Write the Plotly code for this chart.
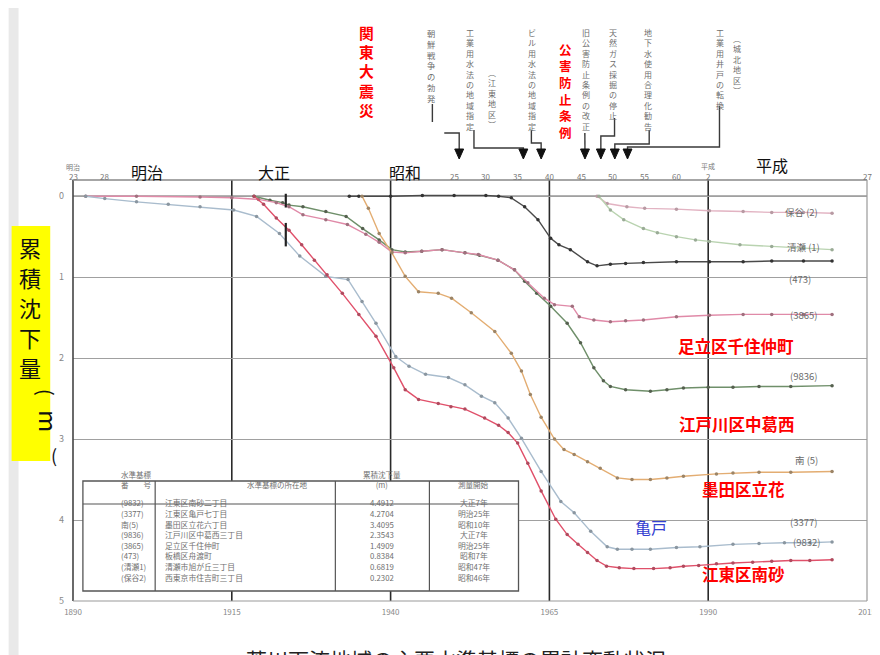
import plotly.graph_objects as go

# ---------------- data ----------------
# 江東区南砂 (9832)
yr_9832 = [1918.5, 1920, 1922, 1924, 1926, 1928, 1930, 1932.4, 1935, 1937.7, 1940.5, 1942.3, 1944.4,
           1947.5, 1949.5, 1951.7, 1954.8, 1957, 1958.5, 1960, 1961.6, 1963.7, 1966, 1967.8, 1969.5,
           1971, 1972.5, 1974, 1976, 1978.3, 1981.4, 1984, 1986.1, 1988.5, 1991.3, 1993.9, 1997,
           2000, 2003, 2006, 2009.5]
dp_9832 = [0.0, 0.1, 0.27, 0.42, 0.6, 0.79, 0.97, 1.2, 1.46, 1.73, 2.12, 2.39, 2.51,
           2.56, 2.6, 2.63, 2.74, 2.83, 2.92, 3.05, 3.3, 3.64, 3.99, 4.18, 4.3,
           4.4, 4.5, 4.57, 4.59, 4.6, 4.6, 4.59, 4.57, 4.56, 4.54, 4.53, 4.52,
           4.51, 4.5, 4.5, 4.49]
# 江東区亀戸 (3377)
yr_3377 = [1892, 1895, 1900, 1905, 1910, 1915.3, 1918.9, 1922.5, 1925.7, 1929.8, 1933.3, 1935.5,
           1937.7, 1940.8, 1942.9, 1945.5, 1949.1, 1951.7, 1954.3, 1956.4, 1958.5, 1960.6, 1963.7,
           1966.8, 1968.9, 1971.5, 1974.1, 1975.7, 1978, 1980.9, 1985, 1988.7, 1993.9, 1998, 2002,
           2006, 2009.5]
dp_3377 = [0.0, 0.03, 0.07, 0.1, 0.13, 0.17, 0.25, 0.46, 0.74, 0.99, 1.03, 1.3,
           1.57, 1.98, 2.1, 2.2, 2.24, 2.33, 2.47, 2.55, 2.74, 2.99, 3.4,
           3.77, 3.91, 4.14, 4.33, 4.36, 4.36, 4.36, 4.34, 4.33, 4.3, 4.29, 4.28,
           4.28, 4.27]
# 墨田区立花 南(5)
yr_m5 = [1935.5, 1936.5, 1938.2, 1940.2, 1942.3, 1944.4, 1947.5, 1949.6, 1952.7, 1956.4, 1959,
         1960.6, 1962, 1963.7, 1965.8, 1967.3, 1968.9, 1971, 1973, 1975.7, 1978, 1980.9, 1983.5,
         1986.1, 1991.3, 1993.9, 1998, 2003, 2009.5]
dp_m5 = [0.0, 0.15, 0.46, 0.7, 0.99, 1.18, 1.2, 1.26, 1.44, 1.67, 1.94,
         2.16, 2.45, 2.73, 3.0, 3.13, 3.19, 3.28, 3.36, 3.48, 3.5, 3.5, 3.48,
         3.46, 3.43, 3.42, 3.41, 3.41, 3.4]
# 江戸川区中葛西 (9836)
yr_9836 = [1918.5, 1921, 1923, 1924, 1926.2, 1929.8, 1933, 1935.6, 1938.2, 1940.2, 1942.3, 1944.9,
           1948.1, 1951.7, 1954, 1956.9, 1959.5, 1961.1, 1963, 1965.2, 1967.8, 1969.9, 1972, 1973.5,
           1974.6, 1977, 1980.9, 1983.5, 1986.1, 1990, 1993.9, 1998, 2003, 2009.5]
dp_9836 = [0.0, 0.05, 0.08, 0.11, 0.13, 0.19, 0.25, 0.4, 0.54, 0.66, 0.69, 0.68,
           0.66, 0.7, 0.73, 0.79, 0.91, 1.05, 1.2, 1.36, 1.57, 1.81, 2.12, 2.28,
           2.35, 2.39, 2.41, 2.39, 2.37, 2.36, 2.36, 2.35, 2.35, 2.34]
# 足立区千住仲町 (3865)
yr_3865 = [1892, 1900, 1910, 1915, 1919.2, 1922, 1924, 1926.2, 1929.8, 1933.2, 1936.1, 1938.2,
           1940.2, 1942.3, 1944.9, 1948.1, 1951.7, 1953.8, 1956.9, 1959.5, 1961.6, 1964.2, 1965.8,
           1968.6, 1969.7, 1972, 1974.6, 1977, 1979.8, 1985, 1990.2, 1995.5, 2000, 2005, 2009.5]
dp_3865 = [0.0, 0.0, 0.01, 0.02, 0.04, 0.08, 0.13, 0.23, 0.29, 0.35, 0.47, 0.57,
           0.69, 0.7, 0.68, 0.66, 0.7, 0.72, 0.79, 0.91, 1.07, 1.26, 1.34,
           1.36, 1.49, 1.53, 1.55, 1.54, 1.53, 1.49, 1.47, 1.46, 1.46, 1.46, 1.46]
# (473)
yr_473 = [1933.5, 1935, 1940, 1945, 1950, 1955, 1957, 1959, 1961.1, 1963.2, 1965.2, 1966.5, 1968.3,
          1971, 1972.5, 1974.6, 1977, 1979.8, 1985, 1990.2, 1995.5, 2000, 2005, 2009.5]
dp_473 = [0.0, 0.0, 0.0, -0.01, -0.01, -0.01, 0.0, 0.02, 0.13, 0.29, 0.52, 0.6, 0.66,
          0.81, 0.86, 0.84, 0.83, 0.82, 0.81, 0.81, 0.81, 0.8, 0.8, 0.8]
# 清瀬 (1)
yr_k1 = [1972.8, 1974.6, 1976.7, 1979.8, 1982, 1985, 1988, 1990.2, 1995, 2000, 2005, 2009.5]
dp_k1 = [0.0, 0.17, 0.29, 0.4, 0.45, 0.5, 0.54, 0.56, 0.6, 0.62, 0.64, 0.66]
# 保谷 (2)
yr_h2 = [1972.5, 1974.1, 1977.2, 1980, 1985, 1990.2, 1995.5, 2000, 2005, 2009.5]
dp_h2 = [0.0, 0.09, 0.13, 0.15, 0.16, 0.18, 0.19, 0.2, 0.2, 0.21]

# 関東大震災 marks (year, depth ranges)
quake_year = 1923.5
quake_ranges = [(-0.03, 0.14), (0.33, 0.62)]

# axis ticks
bottom_years = [1890, 1915, 1940, 1965, 1990, 2015]
grid_years = [1915, 1940, 1965, 1990]
depth_ticks = [0, 1, 2, 3, 4, 5]
top_years = [1890, 1895, 1950, 1955, 1960, 1965, 1970, 1975, 1980, 1985, 1990, 2015]
top_labels = ["23", "28", "25", "30", "35", "40", "45", "50", "55", "60", "2", "27"]
era_names = ["明治", "大正", "昭和", "平成"]
era_label_years = [1901.7, 1921.6, 1942.2, 2000.0]

# events (arrow year)
event_years = [1950.8, 1960.9, 1963.7, 1970.6, 1973.1, 1975.3, 1977.3]

# table
tbl_ids = ["(9832)", "(3377)", "南(5)", "(9836)", "(3865)", "(473)", "(清瀬1)", "(保谷2)"]
tbl_places = ["江東区南砂二丁目", "江東区亀戸七丁目", "墨田区立花六丁目", "江戸川区中葛西三丁目",
              "足立区千住仲町", "板橋区舟渡町", "清瀬市旭が丘三丁目", "西東京市住吉町三丁目"]
tbl_amount = ["4.4912", "4.2704", "3.4095", "2.3543", "1.4909", "0.8384", "0.6819", "0.2302"]
tbl_start = ["大正7年", "明治25年", "昭和10年", "大正7年", "明治25年", "昭和7年", "昭和47年", "昭和46年"]

# ---------------- figure ----------------
W, H = 880, 655
L, R, T, B = 65, 867, 172, 593
X0, X1 = 1890, 2015
FONT = "Noto Sans CJK JP, Noto Sans, sans-serif"


def px(x):
    return (x - L) / (R - L)


def py(y):
    return (B - y) / (B - T)


def yr2px(year):
    return L + (year - X0) / (X1 - X0) * (R - L)


fig = go.Figure()

series = [
    ("保谷(2)", yr_h2, dp_h2, "#e2b3c2", "#b89aa3"),
    ("清瀬(1)", yr_k1, dp_k1, "#b9d3b0", "#9aab96"),
    ("(473)", yr_473, dp_473, "#4a4a4a", "#333333"),
    ("(9836)", yr_9836, dp_9836, "#6f8f6a", "#55604f"),
    ("(3865)", yr_3865, dp_3865, "#e08aa8", "#a0707e"),
    ("南(5)", yr_m5, dp_m5, "#e3ad72", "#9c8466"),
    ("(3377)", yr_3377, dp_3377, "#a9bccd", "#8a96a0"),
    ("(9832)", yr_9832, dp_9832, "#e0506a", "#b04a5e"),
]
for name, xs, ys, lc, mc in series:
    fig.add_trace(go.Scatter(x=xs, y=ys, mode="lines+markers", name=name,
                             line=dict(color=lc, width=1.4),
                             marker=dict(size=3.5, color=mc), showlegend=False,
                             cliponaxis=False))

# quake marks
for a, b in quake_ranges:
    fig.add_trace(go.Scatter(x=[quake_year, quake_year], y=[a, b], mode="lines",
                             line=dict(color="#222", width=2.2), showlegend=False))

shapes = []
ann = []

# vertical grid lines
for g in grid_years:
    shapes.append(dict(type="line", xref="x", yref="paper", x0=g, x1=g, y0=0, y1=1,
                       line=dict(color="#2a2a2a", width=1.6), layer="below"))
# frame
shapes.append(dict(type="line", xref="paper", yref="paper", x0=0, x1=0, y0=0, y1=1,
                   line=dict(color="#444", width=1.6)))
shapes.append(dict(type="line", xref="paper", yref="paper", x0=0, x1=1, y0=1, y1=1,
                   line=dict(color="#888", width=1.3)))
shapes.append(dict(type="line", xref="paper", yref="paper", x0=1, x1=1, y0=0, y1=1,
                   line=dict(color="#999", width=1.2)))
shapes.append(dict(type="line", xref="paper", yref="paper", x0=0, x1=1, y0=0, y1=0,
                   line=dict(color="#999", width=1.2)))
shapes.append(dict(type="line", xref="paper", yref="y", x0=0, x1=1, y0=0, y1=0,
                   line=dict(color="#666", width=1.6), layer="below"))

# left scan shading, then y-title yellow box
shapes.append(dict(type="rect", xref="paper", yref="paper", x0=px(0), x1=px(10), y0=py(655), y1=py(0),
                   fillcolor="#e9e9e9", line=dict(width=0), layer="below"))
shapes.append(dict(type="rect", xref="paper", yref="paper", x0=px(3), x1=px(42), y0=py(453), y1=py(218),
                   fillcolor="#ffff00", line=dict(width=0), layer="below"))


def vtext(text, cx, top, size, color, bold=False):
    body = "<br>".join(text)
    if bold:
        body = "<b>" + body + "</b>"
    ann.append(dict(text=body, xref="paper", yref="paper", x=px(cx), y=py(top),
                    xanchor="center", yanchor="top", showarrow=False, borderpad=0,
                    font=dict(family=FONT, size=size, color=color)))


def vchars(text, cx, top, step, size, color, bold=False):
    for i, ch in enumerate(text):
        t = f"<b>{ch}</b>" if bold else ch
        ann.append(dict(text=t, xref="paper", yref="paper", x=px(cx), y=py(top + step * (i + 0.5)),
                        xanchor="center", yanchor="middle", showarrow=False, borderpad=0,
                        font=dict(family=FONT, size=size, color=color)))


# y title: one annotation per character, 30 px apart
vchars("累積沈下量", 22, 224, 30, 22, "#111")
ann.append(dict(text="(", xref="paper", yref="paper", x=px(22), y=py(385), showarrow=False, textangle=90,
                font=dict(family=FONT, size=20, color="#111")))
ann.append(dict(text="m", xref="paper", yref="paper", x=px(22), y=py(413), showarrow=False, textangle=90,
                font=dict(family=FONT, size=24, color="#111")))
ann.append(dict(text="(", xref="paper", yref="paper", x=px(41), y=py(447), showarrow=False,
                font=dict(family=FONT, size=18, color="#111")))

# event texts
GR = "#6e6e6e"
vtext("朝鮮戦争の勃発", 427, 18, 8.3, GR)
vtext("工業用水法の地域指定", 466, 18, 8, GR)
vtext("︵江東地区︶", 488, 58, 8, GR)
vtext("ビル用水法の地域指定".replace("ー", "︱"), 529, 18, 8, GR)
vtext("旧公害防止条例の改正", 583, 18, 8, GR)
vtext("天然ガス採掘の停止", 610, 18, 8, GR)
vtext("地下水使用合理化勧告", 646, 18, 8, GR)
vtext("工業用井戸の転換", 719, 18, 8, GR)
vtext("︵城北地区︶", 736, 24, 8, GR)
vtext("関東大震災", 361, 13, 14.8, "#ff0000", bold=True)
vchars("公害防止条例", 562, 33, 16.6, 12.5, "#ff0000", bold=True)

# connectors (pixel paths)
conn_paths = [
    [(428, 96), (428, 114)],
    [(440, 125), (yr2px(event_years[0]), 125), (yr2px(event_years[0]), 143)],
    [(470, 122), (470, 140), (yr2px(event_years[1]), 140), (yr2px(event_years[1]), 143)],
    [(528, 122), (528, 135), (yr2px(event_years[2]), 135), (yr2px(event_years[2]), 143)],
    [(582, 125), (yr2px(event_years[3]), 143)],
    [(612, 110), (612, 128), (yr2px(event_years[4]), 128), (yr2px(event_years[4]), 143)],
    [(647, 122), (647, 136), (yr2px(event_years[5]), 136), (yr2px(event_years[5]), 143)],
    [(718, 98), (718, 139), (yr2px(event_years[6]), 139), (yr2px(event_years[6]), 143)],
]
for pts in conn_paths:
    d = "M " + " L ".join(f"{px(a):.5f},{py(b):.5f}" for a, b in pts)
    shapes.append(dict(type="path", xref="paper", yref="paper", path=d,
                       line=dict(color="#3a3a3a", width=1.4)))
for ey in event_years:
    cx = yr2px(ey)
    d = f"M {px(cx-4.5):.5f},{py(141):.5f} L {px(cx+4.5):.5f},{py(141):.5f} L {px(cx):.5f},{py(151):.5f} Z"
    shapes.append(dict(type="path", xref="paper", yref="paper", path=d,
                       fillcolor="#111", line=dict(color="#111", width=1)))

# era labels
for name, ey in zip(era_names, era_label_years):
    yy = 143 if name == "平成" else 150
    ann.append(dict(text=name, xref="x", yref="paper", x=ey, y=py(yy), showarrow=False,
                    font=dict(family=FONT, size=16, color="#111")))

# top small tick labels
for ty, tl in zip(top_years, top_labels):
    ann.append(dict(text=tl, xref="x", yref="paper", x=ty, y=py(161), showarrow=False,
                    font=dict(family=FONT, size=8, color="#777")))
ann.append(dict(text="明治", xref="x", yref="paper", x=top_years[0], y=py(152), showarrow=False,
                font=dict(family=FONT, size=7, color="#777")))
ann.append(dict(text="平成", xref="x", yref="paper", x=top_years[10], y=py(151), showarrow=False,
                font=dict(family=FONT, size=7, color="#777")))

# curve end labels
end_labels = [("保谷 (2)", 820, 195), ("清瀬 (1)", 822, 230), ("(473)", 812, 262), ("(3865)", 820, 298),
              ("(9836)", 820, 368), ("南 (5)", 820, 452), ("(3377)", 820, 523), ("(9832)", 823, 543)]
for t, cx, cy in end_labels:
    ann.append(dict(text=t, xref="paper", yref="paper", x=px(cx), y=py(cy), showarrow=False,
                    font=dict(family=FONT, size=9.5, color="#6a6a6a")))

# red site labels
red_labels = [("足立区千住仲町", 795, 338), ("江戸川区中葛西", 796, 416), ("墨田区立花", 786, 495),
              ("江東区南砂", 786, 580)]
for t, cx, cy in red_labels:
    ann.append(dict(text=f"<b>{t}</b>", xref="paper", yref="paper", x=px(cx), y=py(cy), showarrow=False,
                    font=dict(family=FONT, size=16.5, color="#ff0000")))
ann.append(dict(text="亀戸", xref="paper", yref="paper", x=px(667), y=py(533), showarrow=False,
                font=dict(family=FONT, size=16, color="#3340d0")))

# table
tx0, tx1, ty0, ty1, thead = 75, 515, 473, 583, 496
cols = [75, 148, 330, 425, 515]
shapes.append(dict(type="rect", xref="paper", yref="paper", x0=px(tx0), x1=px(tx1), y0=py(ty1), y1=py(ty0),
                   fillcolor="white", line=dict(color="#555", width=1.3), layer="above"))
shapes.append(dict(type="line", xref="paper", yref="paper", x0=px(tx0), x1=px(tx1), y0=py(thead), y1=py(thead),
                   line=dict(color="#555", width=1.2), layer="above"))
for c in cols[1:-1]:
    shapes.append(dict(type="line", xref="paper", yref="paper", x0=px(c), x1=px(c), y0=py(ty1), y1=py(ty0),
                       line=dict(color="#555", width=1.2), layer="above"))
heads = ["水準基標<br>番　　号", "水準基標の所在地", "累積沈下量<br>(m)", "測量開始"]
TG = "#6f6f6f"
for i, h in enumerate(heads):
    ann.append(dict(text=h, xref="paper", yref="paper", x=px((cols[i] + cols[i + 1]) / 2), y=py(484.5),
                    showarrow=False, font=dict(family=FONT, size=7.5, color=TG)))
row_h = (ty1 - thead - 2) / len(tbl_ids)
for r in range(len(tbl_ids)):
    cy = thead + 1 + row_h * (r + 0.5)
    ann.append(dict(text=tbl_ids[r], xref="paper", yref="paper", x=px(111), y=py(cy), showarrow=False,
                    font=dict(family=FONT, size=7.8, color=TG)))
    ann.append(dict(text=tbl_places[r], xref="paper", yref="paper", x=px(156), y=py(cy), showarrow=False,
                    xanchor="left", font=dict(family=FONT, size=7.8, color=TG)))
    ann.append(dict(text=tbl_amount[r], xref="paper", yref="paper", x=px(377), y=py(cy), showarrow=False,
                    font=dict(family=FONT, size=7.8, color=TG)))
    ann.append(dict(text=tbl_start[r], xref="paper", yref="paper", x=px(470), y=py(cy), showarrow=False,
                    font=dict(family=FONT, size=7.8, color=TG)))

# bottom title (cut by page bottom, as in the source)
ann.append(dict(text="荒川下流地域の主要水準基標の累計変動状況", xref="paper", yref="paper",
                x=px(452), y=py(634), xanchor="center", yanchor="top", showarrow=False,
                font=dict(family=FONT, size=21, color="#222")))

fig.update_layout(
    width=W, height=H,
    margin=dict(l=L, r=W - R, t=T, b=H - B, pad=0),
    paper_bgcolor="white", plot_bgcolor="white",
    shapes=shapes, annotations=ann,
    xaxis=dict(range=[X0, X1], showgrid=False, zeroline=False, showline=False,
               tickvals=bottom_years, ticktext=[str(v) for v in bottom_years],
               ticks="", tickfont=dict(family=FONT, size=8, color="#888")),
    yaxis=dict(range=[5, -0.2], showgrid=True, gridcolor="#a0a0a0", gridwidth=1.3,
               tickvals=depth_ticks, ticktext=[str(v) for v in depth_ticks],
               zeroline=False, showline=False, ticks="",
               tickfont=dict(family=FONT, size=9, color="#888")),
)
fig.update_yaxes(ticklabelstandoff=8)
fig.update_xaxes(ticklabelstandoff=5)

fig.write_html("out.html")
